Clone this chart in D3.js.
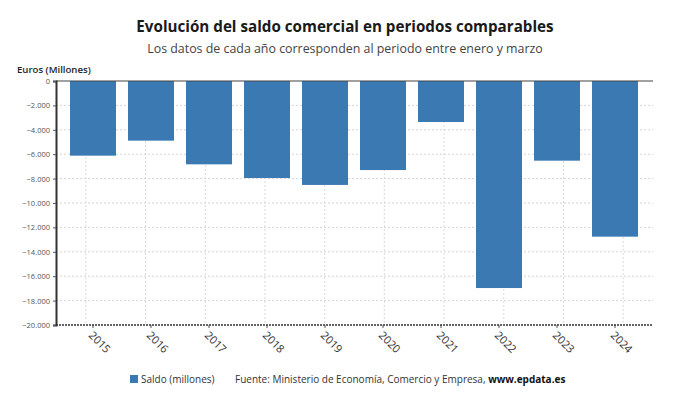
<!DOCTYPE html>
<html>
<head>
<meta charset="utf-8">
<script src="https://cdn.jsdelivr.net/npm/d3@7/dist/d3.min.js"></script>
<style>
body{margin:0;background:#fff;font-family:"Open Sans",sans-serif;}
</style>
</head>
<body>
<svg id="c" width="690" height="405"></svg>
<script>
const years = ["2015","2016","2017","2018","2019","2020","2021","2022","2023","2024"];
const saldo = [-6120,-4890,-6830,-7950,-8520,-7300,-3360,-16970,-6530,-12760];
const yTicks = [0,-2000,-4000,-6000,-8000,-10000,-12000,-14000,-16000,-18000,-20000];
const title = "Evolución del saldo comercial en periodos comparables";
const subtitle = "Los datos de cada año corresponden al periodo entre enero y marzo";
const yLabel = "Euros (Millones)";
const legendLabel = "Saldo (millones)";

(function(){
const svg = d3.select("#c").attr("font-family","Open Sans");
const pL = 56, pR = 653, pT = 81, pB = 325;
const color = "#3b79b3";

const y = d3.scaleLinear().domain([-20000,0]).range([pB, pT]);
const x = d3.scaleBand().domain(years).range([64,644]).paddingInner(12/58).paddingOuter(6/58);
const xg = d3.scaleBand().domain(years).range([pL,pR]).padding(0);

svg.append("text").attr("x",345).attr("y",32).attr("text-anchor","middle")
  .attr("font-size",15.2).attr("font-weight",700).attr("fill","#1a1a1a").text(title);
svg.append("text").attr("x",345).attr("y",53).attr("text-anchor","middle")
  .attr("font-size",12.4).attr("fill","#444").text(subtitle);
svg.append("text").attr("x",17).attr("y",73).attr("font-size",9.6).attr("font-weight",600)
  .attr("fill","#222").text(yLabel);

const g = svg.append("g");
g.selectAll("line.h").data(yTicks.slice(1,-1)).join("line")
  .attr("x1",pL).attr("x2",pR).attr("y1",d=>y(d)).attr("y2",d=>y(d))
  .attr("stroke","#d4d4d4").attr("stroke-dasharray","2,2").attr("stroke-width",1);
g.selectAll("line.v").data(years).join("line")
  .attr("x1",d=>xg(d)+xg.bandwidth()/2).attr("x2",d=>xg(d)+xg.bandwidth()/2)
  .attr("y1",pT).attr("y2",pB)
  .attr("stroke","#dadada").attr("stroke-dasharray","2,2").attr("stroke-width",1);

svg.selectAll("rect.bar").data(years).join("rect")
  .attr("x",d=>x(d)).attr("width",x.bandwidth())
  .attr("y",y(0)).attr("height",(d,i)=>y(saldo[i])-y(0))
  .attr("fill",color);

svg.append("line").attr("x1",pL).attr("x2",pR).attr("y1",y(0)).attr("y2",y(0))
  .attr("stroke","#444").attr("stroke-width",1.2);

const ya = svg.append("g").attr("transform",`translate(${pL},0)`)
  .call(d3.axisLeft(y).tickValues(yTicks).tickSize(3).tickPadding(3)
    .tickFormat(d=>d3.format(",")(d).replace(/,/g,".").replace("-","−")));
ya.select(".domain").attr("stroke","#333").attr("stroke-width",2);
ya.selectAll(".tick line").attr("stroke","#555");
ya.selectAll(".tick text").attr("font-size",7.5).attr("fill","#555").attr("font-family","Open Sans");

const xa = svg.append("g").attr("transform",`translate(0,${pB})`)
  .call(d3.axisBottom(x).tickSize(3).tickFormat(""));
xa.select(".domain").remove();
svg.append("line").attr("x1",pL).attr("x2",pR).attr("y1",pB).attr("y2",pB)
  .attr("stroke","#333").attr("stroke-width",1.5).attr("stroke-dasharray","2,1");
xa.selectAll(".tick line").attr("stroke","#555");
svg.selectAll("text.xl").data(years).join("text")
  .attr("transform",d=>`translate(${x(d)+x.bandwidth()/2-5},${pB+11}) rotate(45)`)
  .attr("font-size",11).attr("fill","#333").text(d=>d);

svg.append("rect").attr("x",130).attr("y",375).attr("width",8).attr("height",8).attr("fill",color);
svg.append("text").attr("x",141).attr("y",383).attr("font-size",10).attr("fill","#333").text(legendLabel);
const src = svg.append("text").attr("x",235).attr("y",383).attr("font-size",10).attr("fill","#333");
src.append("tspan").text("Fuente: Ministerio de Economía, Comercio y Empresa, ");
src.append("tspan").attr("font-weight",700).attr("fill","#111").text("www.epdata.es");
})();
</script>
</body>
</html>
